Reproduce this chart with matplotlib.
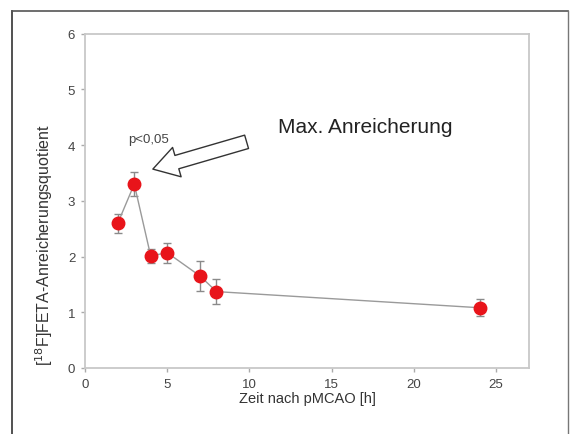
import matplotlib.pyplot as plt
from matplotlib.lines import Line2D

plt.rcParams['font.family'] = ['Liberation Sans', 'DejaVu Sans']

# data
zeit = [2, 3, 4, 5, 7, 8, 24]
quotient = [2.60, 3.30, 2.01, 2.07, 1.65, 1.37, 1.08]
fehler = [0.17, 0.22, 0.13, 0.18, 0.27, 0.22, 0.15]

fig = plt.figure(figsize=(5.7, 4.35), dpi=100)

# outer frame of the original figure
fig.add_artist(Line2D([0.021, 0.021], [0.0, 0.973], transform=fig.transFigure, color='#333333', lw=1.2))
fig.add_artist(Line2D([0.021, 0.996], [0.973, 0.973], transform=fig.transFigure, color='#555555', lw=1.2))
fig.add_artist(Line2D([0.996, 0.996], [0.0, 0.973], transform=fig.transFigure, color='#777777', lw=1.0))

ax = fig.add_axes([0.149, 0.152, 0.779, 0.768])

ax.errorbar(zeit, quotient, yerr=fehler, fmt='none', ecolor='#8a8a8a',
            elinewidth=1.0, capsize=3, capthick=1.0, zorder=2)
ax.plot(zeit, quotient, color='#9a9a9a', lw=1.0, zorder=2)
ax.plot(zeit, quotient, 'o', color='#e8141a', markersize=9, markeredgecolor='#e8141a', zorder=3)

ax.set_xlim(0, 27)
ax.set_ylim(0, 6)
ax.set_xticks([0, 5, 10, 15, 20, 25])
ax.set_yticks([0, 1, 2, 3, 4, 5, 6])

for s in ax.spines.values():
    s.set_color('#c8c8c8')
    s.set_linewidth(1.3)
ax.tick_params(direction='out', length=3, width=1, color='#aaaaaa',
               labelsize=9.5, labelcolor='#444444', pad=4)

ax.set_xlabel('Zeit nach pMCAO [h]', fontsize=10.5, color='#333333', labelpad=1)
ax.set_ylabel(r'[$^{18}$F]FETA-Anreicherungsquotient', fontsize=11.5, color='#333333')
ax.yaxis.set_label_coords(-0.068, 0.37)

ax.text(17.05, 4.33, 'Max. Anreicherung', fontsize=15, color='#222222', ha='center', va='center')
ax.text(3.88, 4.11, 'p<0,05', fontsize=9.5, color='#444444', ha='center', va='center')

ax.annotate('', xy=(4.13, 3.57), xytext=(9.83, 4.06),
            arrowprops=dict(arrowstyle='simple,head_length=0.9,head_width=1.1,tail_width=0.5',
                            fc='white', ec='#333333', lw=1.0, mutation_scale=20,
                            shrinkA=0, shrinkB=0))

plt.savefig('out.png')
